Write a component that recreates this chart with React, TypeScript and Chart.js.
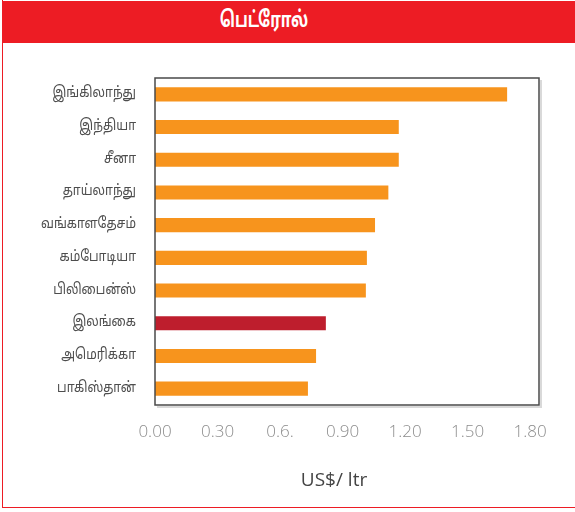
import React, { useEffect, useRef } from "react";
import { Chart, registerables } from "chart.js";

Chart.register(...registerables);

const chartTitle = "பெட்ரோல்";
const axisTitle = "US$/ ltr";
const countries = [
  "இங்கிலாந்து",
  "இந்தியா",
  "சீனா",
  "தாய்லாந்து",
  "வங்காளதேசம்",
  "கம்போடியா",
  "பிலிபைன்ஸ்",
  "இலங்கை",
  "அமெரிக்கா",
  "பாகிஸ்தான்",
];
const prices = [1.69, 1.17, 1.17, 1.12, 1.056, 1.017, 1.012, 0.82, 0.773, 0.734];
const highlightCountry = "இலங்கை";
const tickValues = [0, 0.3, 0.6, 0.9, 1.2, 1.5, 1.8];
const tickLabels = ["0.00", "0.30", "0.6.", "0.90", "1.20", "1.50", "1.80"];

const ORANGE = "#F7941D";
const CRIMSON = "#BE1E2D";
const TAMIL_FONT = "'Noto Sans Tamil', 'Lohit Tamil', 'Noto Sans', 'DejaVu Sans', sans-serif";

const plotBox = {
  id: "plotBox",
  afterDraw(chart: any) {
    const { ctx, chartArea } = chart;
    const { left, top, right, bottom } = chartArea;
    ctx.save();
    ctx.strokeStyle = "#d9d9d9";
    ctx.lineWidth = 2;
    ctx.beginPath();
    ctx.moveTo(right + 2, top + 2);
    ctx.lineTo(right + 2, bottom + 2);
    ctx.lineTo(left + 2, bottom + 2);
    ctx.stroke();
    ctx.strokeStyle = "#4a4a4a";
    ctx.lineWidth = 1.5;
    ctx.strokeRect(left, top, right - left, bottom - top);
    ctx.restore();
  },
};

// Category labels drawn at the y scale's tick positions, slightly condensed
const condensedLabels = {
  id: "condensedLabels",
  afterDraw(chart: any) {
    const { ctx } = chart;
    const yScale = chart.scales.y;
    const labels = chart.data.labels as string[];
    ctx.save();
    ctx.fillStyle = "#4d4d4d";
    ctx.font = `15px ${TAMIL_FONT}`;
    ctx.textAlign = "right";
    ctx.textBaseline = "middle";
    labels.forEach((label, i) => {
      const y = yScale.getPixelForTick(i);
      ctx.save();
      ctx.translate(yScale.right - 19, y);
      ctx.scale(0.82, 1);
      ctx.fillText(label, 0, 0);
      ctx.restore();
    });
    ctx.restore();
  },
};

export default function App() {
  const canvasRef = useRef<HTMLCanvasElement | null>(null);

  useEffect(() => {
    if (!canvasRef.current) return;
    const chart = new Chart(canvasRef.current, {
      type: "bar",
      data: {
        labels: countries,
        datasets: [
          {
            data: prices,
            backgroundColor: countries.map((c) => (c === highlightCountry ? CRIMSON : ORANGE)),
            borderWidth: 0,
            barPercentage: 0.43,
            categoryPercentage: 1,
          },
        ],
      },
      options: {
        indexAxis: "y",
        animation: false,
        responsive: false,
        maintainAspectRatio: false,
        layout: { padding: { top: 78, right: 36, left: 0, bottom: 0 } },
        plugins: {
          legend: { display: false },
          tooltip: { enabled: false },
          title: { display: false },
        },
        scales: {
          x: {
            min: 0,
            max: 1.843,
            grid: { display: false, drawTicks: false },
            border: { display: false },
            afterBuildTicks: (scale: any) => {
              scale.ticks = tickValues.map((v) => ({ value: v }));
            },
            afterFit: (scale: any) => {
              scale.height = 107;
            },
            ticks: {
              padding: 17,
              color: "#8c8c8c",
              font: { family: "'Open Sans', sans-serif", size: 17, weight: 300 },
              maxRotation: 0,
              autoSkip: false,
              callback: (value: any) => {
                const i = tickValues.findIndex((t) => Math.abs(t - Number(value)) < 1e-6);
                return i >= 0 ? tickLabels[i] : "";
              },
            },
          },
          y: {
            grid: { display: false, drawTicks: false },
            border: { display: false },
            afterFit: (scale: any) => {
              scale.width = 155;
            },
            ticks: {
              display: false,
              autoSkip: false,
            },
          },
        },
      },
      plugins: [plotBox, condensedLabels],
    });
    return () => chart.destroy();
  }, []);

  return (
    <div style={{ position: "absolute", left: 0, top: 0, width: 575, height: 512, background: "#fff", overflow: "hidden" }}>
      <div
        style={{
          position: "absolute",
          left: 2,
          top: 0,
          width: 600,
          height: 508,
          borderLeft: "1px solid #ED1C24",
          borderBottom: "1px solid #ED1C24",
          boxSizing: "border-box",
        }}
      />
      <div style={{ position: "absolute", left: 2, top: 1, width: 573, height: 42, background: "#ED1C24" }}>
        <span
          style={{
            position: "absolute",
            left: 262,
            top: 0,
            transform: "translateX(-50%) scaleX(0.7)",
            lineHeight: "42px",
            color: "#fff",
            fontWeight: 700,
            fontSize: 22,
            fontFamily: TAMIL_FONT,
            whiteSpace: "nowrap",
          }}
        >
          {chartTitle}
        </span>
      </div>
      <canvas ref={canvasRef} width={575} height={512} style={{ position: "absolute", left: 0, top: 0 }} />
      <div
        style={{
          position: "absolute",
          left: 334,
          top: 466,
          transform: "translateX(-50%)",
          color: "#444",
          fontSize: 19,
          fontFamily: "'Open Sans', sans-serif",
          whiteSpace: "nowrap",
          lineHeight: "26px",
        }}
      >
        {axisTitle}
      </div>
    </div>
  );
}
